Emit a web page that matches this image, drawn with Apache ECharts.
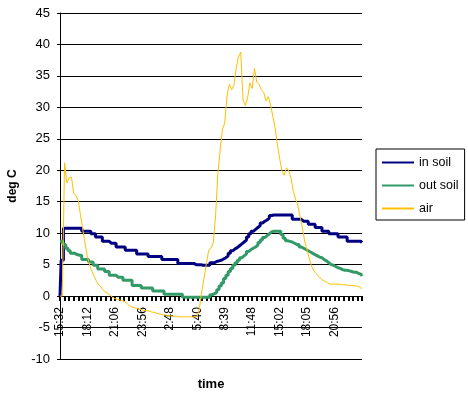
<!DOCTYPE html>
<html>
<head>
<meta charset="utf-8">
<script src="https://cdn.jsdelivr.net/npm/echarts@6/dist/echarts.min.js"></script>
<style>
  html, body { margin: 0; padding: 0; background: #fff; }
  #chart { width: 468px; height: 399px; }
</style>
</head>
<body>
<div id="chart"></div>
<script>
// tick labels shown every 12 readings
const tickLabels = ['15:32', '18:12', '21:06', '23:56', '2:48', '5:40', '8:39', '11:48', '15:02', '18:05', '20:56'];
const labelEvery = 12;

const inSoil = [
  0, 5.7, 10.8, 10.8, 10.8, 10.8, 10.8, 10.8, 10.8, 10.8, 10.3, 10.3,
  10.3, 10.3, 9.9, 9.9, 9.4, 9.4, 9.4, 8.7, 8.7, 8.7, 8.4, 8.4,
  8.4, 7.8, 7.8, 7.8, 7.8, 7.3, 7.3, 7.3, 7.3, 7.3, 6.7, 6.7,
  6.7, 6.7, 6.7, 6.3, 6.3, 6.3, 6.3, 6.3, 6.3, 5.8, 5.8, 5.8,
  5.8, 5.8, 5.8, 5.8, 5.2, 5.2, 5.2, 5.2, 5.2, 5.2, 5.2, 5.0,
  5.0, 5.0, 4.9, 4.9, 4.9, 4.9, 5.3, 5.3, 5.5, 5.6, 5.7, 5.9,
  6.1, 6.4, 6.8, 7.2, 7.5, 7.7, 8.0, 8.3, 8.6, 8.9, 9.4, 9.9,
  10.3, 10.6, 10.9, 11.2, 11.6, 11.9, 12.1, 12.4, 12.8, 12.9, 12.9, 12.9,
  12.9, 12.9, 12.9, 12.9, 12.9, 12.9, 12.2, 12.2, 12.2, 12.2, 11.9, 11.9,
  11.9, 11.4, 11.4, 11.4, 10.9, 10.9, 10.9, 10.3, 10.3, 10.3, 9.9, 9.9,
  9.9, 9.9, 9.4, 9.4, 9.4, 9.4, 8.7, 8.7, 8.7, 8.7, 8.7, 8.7,
  8.5
];

const outSoil = [
  8.7, 8.7, 8.2, 7.6, 7.2, 6.8, 6.8, 6.6, 6.5, 6.5, 5.8, 5.8,
  5.8, 5.4, 5.4, 4.9, 4.9, 4.3, 4.3, 4.3, 3.9, 3.9, 3.3, 3.3,
  3.3, 3.0, 3.0, 3.0, 2.5, 2.5, 2.5, 2.5, 1.7, 1.7, 1.7, 1.7,
  1.3, 1.3, 1.3, 1.3, 1.3, 0.8, 0.8, 0.8, 0.8, 0.8, 0.3, 0.3,
  0.3, 0.3, 0.3, 0.3, 0.3, 0.3, -0.2, -0.2, -0.2, -0.2, -0.2, -0.2,
  -0.2, -0.2, -0.2, -0.2, -0.2, -0.2, 0.2, 0.4, 0.6, 1.0, 1.6, 2.1,
  2.8, 3.3, 3.9, 4.4, 4.9, 5.3, 5.7, 6.1, 6.4, 6.7, 7.1, 7.4,
  7.6, 7.8, 8.1, 8.5, 8.9, 9.3, 9.6, 9.9, 10.2, 10.3, 10.3, 10.3,
  10.3, 9.8, 9.2, 8.8, 8.7, 8.6, 8.4, 8.2, 8.2, 7.8, 7.6, 7.4,
  7.2, 7.0, 6.8, 6.6, 6.4, 6.2, 6.1, 5.8, 5.6, 5.3, 5.0, 4.9,
  4.7, 4.5, 4.4, 4.2, 4.1, 4.1, 4.0, 3.9, 3.8, 3.8, 3.6, 3.5,
  3.2
];

const air = [
  0, 0, 21.2, 18.0, 18.8, 18.9, 16.3, 16.0, 15.1, 12.8, 10.5, 8.3,
  6.2, 4.9, 3.9, 3.1, 2.3, 1.8, 1.4, 0.9, 0.6, 0.4, 0.1, -0.2,
  -0.4, -0.5, -0.6, -0.7, -0.8, -1.1, -1.4, -1.7, -1.8, -1.9, -2.0, -2.1,
  -2.2, -2.3, -2.3, -2.4, -2.5, -2.6, -2.7, -2.8, -2.9, -3.0, -3.0, -3.1,
  -3.1, -3.2, -3.2, -3.2, -3.3, -3.3, -3.3, -3.3, -3.3, -3.3, -3.3, -3.3,
  -3.2, -1.8, 0.8, 2.9, 5.2, 7.3, 7.6, 8.5, 12.8, 19.5, 23.2, 26.5,
  27.5, 31.8, 33.7, 32.8, 33.5, 36.2, 38.0, 38.8, 31.2, 30.3, 31.5, 33.9,
  33.0, 36.2, 34.0, 33.7, 32.8, 32.4, 31.0, 31.7, 30.5, 28.6, 26.8, 24.2,
  21.9, 19.9, 19.2, 20.4, 19.9, 18.7, 16.6, 15.4, 14.3, 12.5, 10.8, 8.6,
  7.3, 5.9, 4.7, 4.0, 3.6, 3.1, 2.8, 2.5, 2.3, 2.1, 1.9, 1.9,
  1.9, 1.9, 1.9, 1.8, 1.8, 1.8, 1.7, 1.7, 1.7, 1.6, 1.6, 1.4,
  1.2
];

// one category per reading, only every 12th carries a time label
const categories = inSoil.map((v, i) =>
  i % labelEvery === 0 && tickLabels[i / labelEvery] ? tickLabels[i / labelEvery] : '');

const yMin = -10;
const yMax = 45;
const font = "'Liberation Sans', Arial, sans-serif";
const gridTop = 13;
const gridBottom = 40;
const chartHeight = 399;

// x axis sits on the 0 line: shift it up from the grid bottom
const plotHeight = chartHeight - gridTop - gridBottom;
const zeroOffset = -plotHeight * (0 - yMin) / (yMax - yMin);

const chart = echarts.init(document.getElementById('chart'));

chart.setOption({
  animation: false,
  backgroundColor: '#fff',
  textStyle: { fontFamily: font, color: '#000' },
  grid: { left: 60, right: 106, top: gridTop, bottom: gridBottom, outerBoundsMode: 'none' },
  legend: {
    orient: 'vertical',
    left: 376,
    top: 149,
    padding: [7, 6, 5, 5],
    itemWidth: 32,
    itemHeight: 14,
    itemGap: 10,
    backgroundColor: '#fff',
    borderColor: '#000',
    borderWidth: 1,
    borderRadius: 0,
    itemStyle: { opacity: 0 },
    textStyle: { fontFamily: font, fontSize: 12.5, color: '#000' },
    data: ['in soil', 'out soil', 'air']
  },
  xAxis: {
    type: 'category',
    data: categories,
    boundaryGap: false,
    position: 'bottom',
    offset: zeroOffset,
    name: 'time',
    nameLocation: 'middle',
    nameGap: 82,
    nameMoveOverlap: false,
    nameTextStyle: { fontFamily: font, fontSize: 13, fontWeight: 'bold', color: '#000' },
    axisLine: { onZero: false, lineStyle: { color: '#000', width: 1 } },
    axisTick: { interval: 1, length: 5, lineStyle: { color: '#000', width: 2 } },
    axisLabel: { interval: labelEvery - 1, rotate: 90, margin: 11, fontFamily: font, fontSize: 12, color: '#000' },
    splitLine: { show: false }
  },
  yAxis: {
    type: 'value',
    min: yMin,
    max: yMax,
    interval: 5,
    name: 'deg C',
    nameLocation: 'middle',
    nameGap: 41,
    nameMoveOverlap: false,
    nameTextStyle: { fontFamily: font, fontSize: 12, fontWeight: 'bold', color: '#000' },
    axisLine: { show: true, lineStyle: { color: '#000', width: 1 } },
    axisTick: { show: true, length: 3, lineStyle: { color: '#000' } },
    axisLabel: { margin: 10, fontFamily: font, fontSize: 13, color: '#000' },
    splitLine: { lineStyle: { color: '#000', width: 1 } }
  },
  series: [
    {
      name: 'in soil', type: 'line', data: inSoil, step: 'middle',
      symbol: 'none', lineStyle: { color: '#000080', width: 3 }, itemStyle: { color: '#000080' }
    },
    {
      name: 'out soil', type: 'line', data: outSoil, step: 'middle',
      symbol: 'none', lineStyle: { color: '#339966', width: 3 }, itemStyle: { color: '#339966' }
    },
    {
      name: 'air', type: 'line', data: air,
      symbol: 'none', lineStyle: { color: '#FFC000', width: 1 }, itemStyle: { color: '#FFC000' }
    }
  ]
});
</script>
</body>
</html>
